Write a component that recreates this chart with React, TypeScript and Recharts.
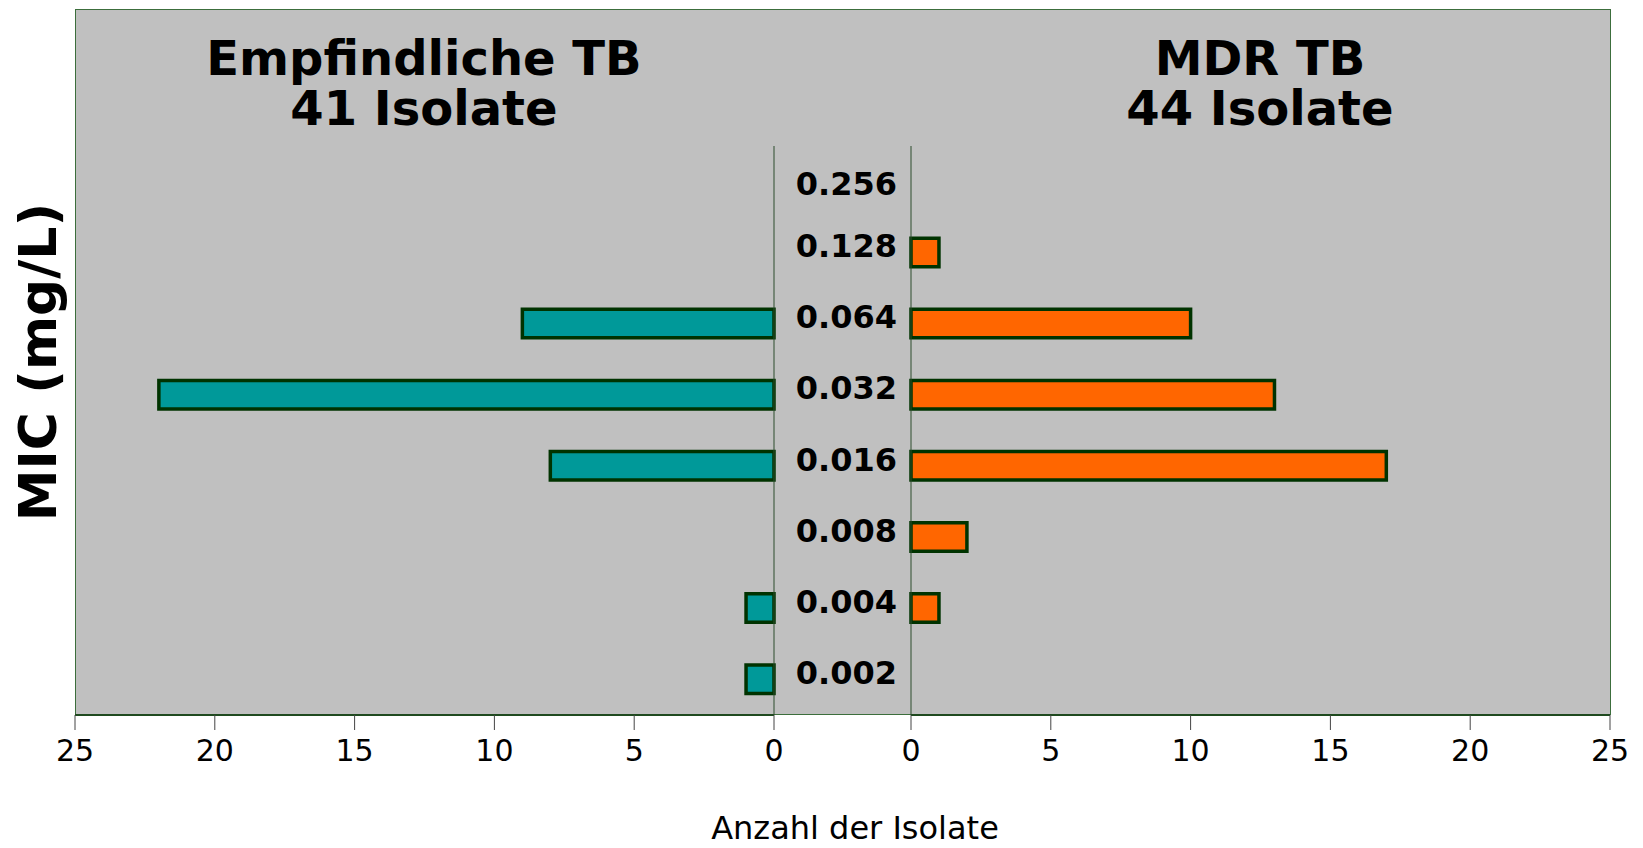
import React from "react";
import { BarChart, Bar, XAxis, YAxis } from "recharts";

const micLevels = ["0.256", "0.128", "0.064", "0.032", "0.016", "0.008", "0.004", "0.002"];
const sensitiveCounts = [0, 0, 9, 22, 8, 0, 1, 1];
const mdrCounts = [0, 1, 10, 13, 17, 2, 1, 0];
const countTicks = [0, 5, 10, 15, 20, 25];

const rows = micLevels.map((mic, i) => ({ mic, sensitive: sensitiveCounts[i], mdr: mdrCounts[i] }));

const W = 1643;
const H = 848;
const font = "'DejaVu Sans', Verdana, sans-serif";
const edge = "#003300";

const tickStyle = { fontSize: 30, fill: "#000", fontFamily: font };

function MicTick(props: any) {
  const { x, y, payload, index } = props;
  // the top label sits a bit lower in the original
  const shift = index === 0 ? 9 : 0;
  return (
    <text x={x} y={y + 4.5 + shift} textAnchor="end" fontSize={32} fontWeight="bold" fontFamily={font} fill="#000">
      {payload.value}
    </text>
  );
}

export default function App() {
  return (
    <div style={{ position: "absolute", left: 0, top: 0, width: W, height: H, background: "#fff", fontFamily: font }}>
      <div
        style={{
          position: "absolute",
          left: 75,
          top: 9,
          width: 1536,
          height: 706,
          background: "#c0c0c0",
          border: "1px solid #3c6e3c",
          boxSizing: "border-box",
        }}
      />
      <div style={{ position: "absolute", left: 0, top: 0 }}>
        <BarChart width={W} height={H} data={rows} layout="vertical" margin={{ top: 146, right: 868, bottom: 73, left: 75 }}>
          <XAxis
            type="number"
            domain={[0, 25]}
            ticks={countTicks}
            reversed
            height={60}
            tickSize={15}
            tickMargin={10}
            tick={tickStyle}
            axisLine={{ stroke: "#1f4a1f", strokeWidth: 2 }}
            tickLine={{ stroke: "#444" }}
          />
          <YAxis
            type="category"
            dataKey="mic"
            orientation="right"
            width={1}
            tick={false}
            tickLine={false}
            axisLine={{ stroke: "#2d4d2d" }}
          />
          <Bar dataKey="sensitive" fill="#009999" stroke={edge} strokeWidth={3.5} barSize={28.5} isAnimationActive={false} />
        </BarChart>
      </div>
      <div style={{ position: "absolute", left: 0, top: 0 }}>
        <BarChart width={W} height={H} data={rows} layout="vertical" margin={{ top: 146, right: 33, bottom: 73, left: 775 }}>
          <XAxis
            type="number"
            domain={[0, 25]}
            ticks={countTicks}
            height={60}
            tickSize={15}
            tickMargin={10}
            tick={tickStyle}
            axisLine={{ stroke: "#1f4a1f", strokeWidth: 2 }}
            tickLine={{ stroke: "#444" }}
          />
          <YAxis
            type="category"
            dataKey="mic"
            width={136}
            tickSize={0}
            tickMargin={14}
            tick={<MicTick />}
            tickLine={false}
            axisLine={{ stroke: "#2d4d2d" }}
          />
          <Bar dataKey="mdr" fill="#ff6600" stroke={edge} strokeWidth={3.5} barSize={28.5} isAnimationActive={false} />
        </BarChart>
      </div>
      <svg width={W} height={H} style={{ position: "absolute", left: 0, top: 0, pointerEvents: "none" }}>
        <g fontFamily={font} fontWeight="bold" fontSize={48} fill="#000" textAnchor="middle">
          <text x={424} y={75}>
            <tspan x={424}>Empfindliche TB</tspan>
            <tspan x={424} dy={50}>41 Isolate</tspan>
          </text>
          <text x={1260} y={75}>
            <tspan x={1260}>MDR TB</tspan>
            <tspan x={1260} dy={50}>44 Isolate</tspan>
          </text>
        </g>
        <text
          x={56}
          y={362}
          transform="rotate(-90 56 362)"
          textAnchor="middle"
          fontFamily={font}
          fontWeight="bold"
          fontSize={52}
          fill="#000"
        >
          MIC (mg/L)
        </text>
        <text x={855} y={839} textAnchor="middle" fontFamily={font} fontSize={32} fill="#000">
          Anzahl der Isolate
        </text>
      </svg>
    </div>
  );
}
